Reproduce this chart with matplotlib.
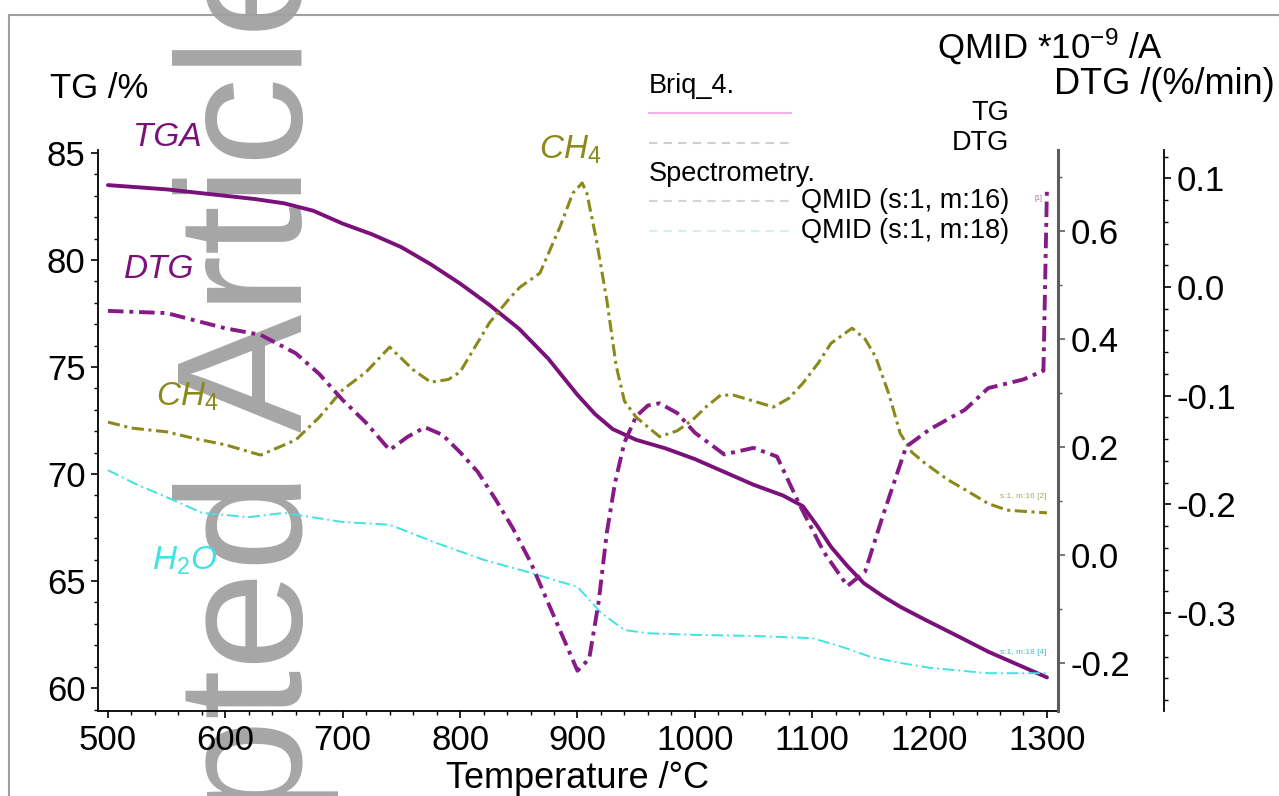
import matplotlib
matplotlib.use('Agg')
import matplotlib.pyplot as plt
from matplotlib.ticker import MultipleLocator, FormatStrFormatter
from matplotlib.lines import Line2D

plt.rcParams['font.family'] = ['Liberation Sans', 'DejaVu Sans']
plt.rcParams['mathtext.fontset'] = 'custom'
plt.rcParams['mathtext.rm'] = 'Liberation Sans'
plt.rcParams['mathtext.it'] = 'Liberation Sans:italic'
plt.rcParams['axes.unicode_minus'] = False

W, H = 1279, 796

# TG curve (left axis, %)
tg_temp = [500, 525, 550, 575, 600, 625, 650, 675, 700, 725, 750, 775, 800, 825, 850,
           875, 900, 915, 930, 950, 975, 1000, 1025, 1050, 1075, 1092, 1104, 1116, 1130,
           1144, 1160, 1175, 1196, 1225, 1250, 1275, 1300]
tg_val = [83.5, 83.4, 83.3, 83.15, 83.0, 82.85, 82.65, 82.3, 81.7, 81.2, 80.6, 79.8, 78.9,
          77.9, 76.8, 75.4, 73.7, 72.8, 72.1, 71.6, 71.2, 70.7, 70.1, 69.5, 69.0, 68.5,
          67.6, 66.6, 65.7, 64.9, 64.3, 63.8, 63.2, 62.4, 61.7, 61.1, 60.5]

# DTG curve (outer right axis, %/min)
dtg_temp = [500, 550, 600, 630, 660, 680, 700, 720, 740, 755, 770, 785, 800, 815, 830, 845,
            860, 880, 900, 910, 918, 925, 932, 940, 950, 960, 970, 985, 1000, 1025, 1050,
            1070, 1090, 1110, 1130, 1145, 1160, 1180, 1200, 1230, 1250, 1280, 1297, 1300]
dtg_val = [-0.022, -0.024, -0.038, -0.044, -0.061, -0.080, -0.104, -0.125, -0.150, -0.138,
           -0.129, -0.136, -0.152, -0.170, -0.195, -0.222, -0.253, -0.303, -0.353, -0.342,
           -0.290, -0.226, -0.180, -0.143, -0.119, -0.109, -0.107, -0.116, -0.134, -0.154,
           -0.148, -0.156, -0.202, -0.244, -0.275, -0.262, -0.211, -0.147, -0.131, -0.113,
           -0.093, -0.085, -0.077, 0.092]

# QMID m:16 (CH4), inner right axis
ch4_temp = [500, 520, 550, 575, 600, 630, 660, 680, 700, 720, 740, 760, 775, 790, 800, 825,
            842, 851, 868, 885, 896, 904, 908, 916, 925, 933, 940, 950, 970, 985, 998, 1010,
            1022, 1033, 1050, 1067, 1080, 1092, 1105, 1116, 1134, 1145, 1154, 1165, 1175,
            1185, 1196, 1215, 1231, 1250, 1266, 1285, 1300]
ch4_val = [0.246, 0.235, 0.228, 0.215, 0.204, 0.185, 0.213, 0.255, 0.306, 0.339, 0.385,
           0.343, 0.320, 0.325, 0.339, 0.430, 0.475, 0.496, 0.522, 0.607, 0.670, 0.689,
           0.670, 0.585, 0.472, 0.350, 0.285, 0.255, 0.219, 0.230, 0.250, 0.275, 0.296,
           0.296, 0.285, 0.274, 0.290, 0.318, 0.355, 0.392, 0.420, 0.400, 0.367, 0.300,
           0.225, 0.190, 0.170, 0.140, 0.120, 0.095, 0.083, 0.080, 0.078]

# QMID m:18 (H2O), inner right axis
h2o_temp = [500, 525, 550, 580, 620, 650, 700, 740, 780, 820, 860, 900, 920, 940, 960,
            1000, 1050, 1100, 1125, 1150, 1175, 1200, 1250, 1300]
h2o_val = [0.157, 0.130, 0.107, 0.078, 0.070, 0.078, 0.061, 0.056, 0.022, -0.009, -0.033,
           -0.059, -0.107, -0.139, -0.145, -0.148, -0.150, -0.154, -0.170, -0.189, -0.200,
           -0.209, -0.219, -0.219]

purple = '#7a117a'
olive = '#8a8a1c'
cyan = '#3fe3e3'


def fx(x):
    return x / W


def fy(y):
    return 1 - y / H


fig = plt.figure(figsize=(W / 100, H / 100), dpi=100)
ax = fig.add_axes([fx(98), fy(711), fx(1058) - fx(98), fy(150) - fy(711)])
ax.patch.set_visible(False)
ax2 = ax.twinx()
ax3 = ax.twinx()

ax.plot(tg_temp, tg_val, color=purple, lw=2.8, solid_capstyle='round')
ax3.plot(dtg_temp, dtg_val, color='#861a86', lw=2.8, ls=(0, (4, 1.5, 1, 1.5)))
ax2.plot(ch4_temp, ch4_val, color=olive, lw=2.2, ls=(0, (4, 1.5, 1, 1.5)))
ax2.plot(h2o_temp, h2o_val, color=cyan, lw=1.4, ls=(0, (6, 2, 1, 2)))

ax.set_xlim(491.5, 1309.4)
ax.set_ylim(58.93, 85.14)
ax2.set_ylim(-0.289, 0.75)
ax3.set_ylim(-0.39, 0.126)

for s in ['top', 'right']:
    ax.spines[s].set_visible(False)
for s in ['top', 'left', 'bottom']:
    ax2.spines[s].set_visible(False)
    ax3.spines[s].set_visible(False)
ax.spines['left'].set_linewidth(1.3)
ax.spines['bottom'].set_linewidth(1.3)
ax2.spines['right'].set_color('#5c5c5c')
ax2.spines['right'].set_linewidth(2.2)
ax3.spines['right'].set_position(('axes', (1164 - 98) / 960))
ax3.spines['right'].set_linewidth(1.3)

ax.xaxis.set_major_locator(MultipleLocator(100))
ax.xaxis.set_minor_locator(MultipleLocator(20))
ax.yaxis.set_major_locator(MultipleLocator(5))
ax.yaxis.set_minor_locator(MultipleLocator(1))
ax2.yaxis.set_major_locator(MultipleLocator(0.2))
ax2.yaxis.set_minor_locator(MultipleLocator(0.1))
ax2.yaxis.set_major_formatter(FormatStrFormatter('%.1f'))
ax3.yaxis.set_major_locator(MultipleLocator(0.1))
ax3.yaxis.set_minor_locator(MultipleLocator(0.02))
ax3.yaxis.set_major_formatter(FormatStrFormatter('%.1f'))

for a in (ax, ax2, ax3):
    a.tick_params(which='major', length=5, width=1.2, labelsize=25, direction='out', pad=4)
    a.tick_params(which='minor', length=3, width=1.0, direction='out')
ax2.tick_params(axis='y', which='both', color='#5c5c5c')

# axis titles
fig.text(fx(99), fy(88), 'TG /%', ha='center', va='center', fontsize=25)
fig.text(fx(1050), fy(47), r'QMID *10$^{\mathrm{-9}}$ /A', ha='center', va='center', fontsize=25)
fig.text(fx(1164), fy(85), 'DTG /(%/min)', ha='center', va='center', fontsize=26)
fig.text(fx(578), fy(778), 'Temperature /°C', ha='center', va='center', fontsize=26)

# curve labels
fig.text(fx(167), fy(138), 'TGA', ha='center', va='center', fontsize=24, style='italic', color=purple)
fig.text(fx(159), fy(269), 'DTG', ha='center', va='center', fontsize=24, style='italic', color=purple)
fig.text(fx(187), fy(397), r'CH$_4$', ha='center', va='center', fontsize=24, style='italic', color=olive)
fig.text(fx(570), fy(150), r'CH$_4$', ha='center', va='center', fontsize=24, style='italic', color=olive)
fig.text(fx(185), fy(561), r'H$_2$O', ha='center', va='center', fontsize=24, style='italic', color=cyan)

# legend block
fig.text(fx(649), fy(86), 'Briq_4.', ha='left', va='center', fontsize=19.5)
fig.text(fx(649), fy(174), 'Spectrometry.', ha='left', va='center', fontsize=19.5)
leg_rows = [(113, 'TG', '#f0b4f0', '-'), (143, 'DTG', '#cfcfcf', (0, (4, 3))),
            (201, 'QMID (s:1, m:16)', '#d4d4d4', (0, (4, 3))),
            (231, 'QMID (s:1, m:18)', '#d2f0f0', (0, (4, 3)))]
for yy, name, col, style in leg_rows:
    fig.add_artist(Line2D([fx(649), fx(791)], [fy(yy), fy(yy)], color=col, lw=1.5, ls=style))
    fig.text(fx(1009), fy(yy), name, ha='right', va='center', fontsize=19.5)

# small curve tags
fig.text(fx(1038), fy(199), '[1]', ha='center', va='center', fontsize=5, color='#a070a0')
fig.text(fx(1047), fy(497), 's:1, m:16 [2]', ha='right', va='center', fontsize=6, color='#a8a860')
fig.text(fx(1047), fy(653), 's:1, m:18 [4]', ha='right', va='center', fontsize=6, color='#40b8c8')

# page frame
fig.add_artist(Line2D([fx(9), fx(9)], [0, fy(15)], color='#a0a0a0', lw=1.5))
fig.add_artist(Line2D([fx(9), 1], [fy(15), fy(15)], color='#a0a0a0', lw=1.5))

# watermark
fig.text(fx(302), 220 / H, 'Accepted Article', rotation=90, rotation_mode='anchor',
         ha='center', va='baseline', fontsize=128, color='#a6a6a6', zorder=-1)

fig.savefig('out.png', dpi=100)
